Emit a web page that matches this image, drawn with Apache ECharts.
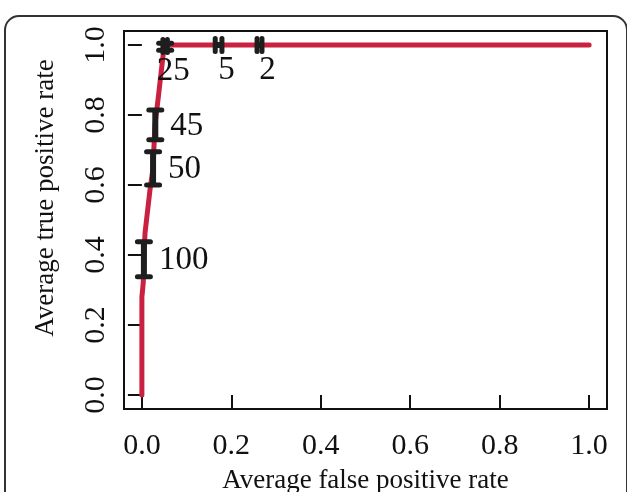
<!DOCTYPE html>
<html><head><meta charset="utf-8">
<script src="https://cdn.jsdelivr.net/npm/echarts@6/dist/echarts.min.js"></script>
<style>html,body{margin:0;padding:0;background:#fff}#c{width:627px;height:492px}</style>
</head><body><div id="c"></div>
<script>
// ROC curve (average false positive rate vs average true positive rate)
const fpr = [0, 0, 0.003, 0.0045, 0.007, 0.018, 0.025, 0.029, 0.036, 0.048, 0.055, 1.0];
const tpr = [0, 0.28, 0.32, 0.388, 0.463, 0.585, 0.648, 0.77, 0.843, 0.977, 1.0, 1.0];
const tickValues = [0, 0.2, 0.4, 0.6, 0.8, 1.0];
// vertical error bars (tpr spread)
const vBarLabels = ['100', '50', '45', '25'];
const vBarX = [0.0045, 0.025, 0.03, 0.052];
const vBarLow = [0.338, 0.60, 0.729, 0.985];
const vBarHigh = [0.438, 0.695, 0.814, 1.005];
// horizontal error bars (fpr spread)
const hBarLabels = ['25', '5', '2'];
const hBarY = [0.997, 1.0, 1.0];
const hBarLow = [0.047, 0.164, 0.2575];
const hBarHigh = [0.057, 0.179, 0.2685];

const FONT = "'Liberation Serif','DejaVu Serif','Times New Roman',serif";
const INK = '#111111';
const RED = '#c9213f';

const chart = echarts.init(document.getElementById('c'));

function vBarItem(params, api) {
  const x = api.value(0), lo = api.value(1), hi = api.value(2);
  const pL = api.coord([x, lo]), pH = api.coord([x, hi]);
  const cw = 6.5;
  return {type: 'group', children: [
    {type: 'line', shape: {x1: pL[0], y1: pL[1], x2: pH[0], y2: pH[1]}, style: {stroke: '#1e1e1e', lineWidth: 6}},
    {type: 'line', shape: {x1: pL[0] - cw, y1: pL[1], x2: pL[0] + cw, y2: pL[1]}, style: {stroke: '#1e1e1e', lineWidth: 5, lineCap: 'round'}},
    {type: 'line', shape: {x1: pH[0] - cw, y1: pH[1], x2: pH[0] + cw, y2: pH[1]}, style: {stroke: '#1e1e1e', lineWidth: 5, lineCap: 'round'}}
  ]};
}
function hBarItem(params, api) {
  const y = api.value(0), lo = api.value(1), hi = api.value(2);
  const pL = api.coord([lo, y]), pH = api.coord([hi, y]);
  const ch = 6.5;
  return {type: 'group', children: [
    {type: 'line', shape: {x1: pL[0], y1: pL[1], x2: pH[0], y2: pH[1]}, style: {stroke: '#1e1e1e', lineWidth: 6}},
    {type: 'line', shape: {x1: pL[0], y1: pL[1] - ch, x2: pL[0], y2: pL[1] + ch}, style: {stroke: '#1e1e1e', lineWidth: 5, lineCap: 'round'}},
    {type: 'line', shape: {x1: pH[0], y1: pH[1] - ch, x2: pH[0], y2: pH[1] + ch}, style: {stroke: '#1e1e1e', lineWidth: 5, lineCap: 'round'}}
  ]};
}

const vData = vBarX.map((x, i) => [x, vBarLow[i], vBarHigh[i]]);
const hData = hBarY.map((y, i) => [y, hBarLow[i], hBarHigh[i]]);

// labels: right of vertical bars (except the one shared with a horizontal bar), below horizontal bars
const rightLabels = vBarLabels.map((l, i) => ({name: l, value: [vBarX[i], (vBarLow[i] + vBarHigh[i]) / 2]}))
  .filter(d => hBarLabels.indexOf(d.name) < 0);
const belowLabels = hBarLabels.map((l, i) => ({name: l, value: [(hBarLow[i] + hBarHigh[i]) / 2, hBarY[i]]}));

const axisCommon = {
  type: 'value', min: -0.04, max: 1.04,
  axisLine: {show: false},
  splitLine: {show: false},
  axisTick: {show: true, customValues: tickValues, length: 14, lineStyle: {color: INK, width: 2}},
};

chart.setOption({
  animation: false,
  backgroundColor: '#fff',
  grid: {left: 124, right: 20, top: 31, bottom: 83, containLabel: false, outerBoundsMode: 'none',
         show: true, borderColor: INK, borderWidth: 2, backgroundColor: 'transparent'},
  xAxis: Object.assign({}, axisCommon, {
    axisLabel: {customValues: tickValues, formatter: v => v.toFixed(1), fontFamily: FONT, fontSize: 30, color: INK, margin: 22},
    name: 'Average false positive rate', nameLocation: 'middle', nameGap: 58,
    nameTextStyle: {fontFamily: FONT, fontSize: 27, color: INK}
  }),
  yAxis: Object.assign({}, axisCommon, {
    axisLabel: {customValues: tickValues, formatter: v => v.toFixed(1), fontFamily: FONT, fontSize: 30, color: INK, margin: 13, rotate: 90}
  }),
  graphic: [
    {type: 'rect', shape: {x: 5, y: 16, width: 622, height: 600, r: 14}, style: {fill: 'none', stroke: '#333', lineWidth: 2}, z: 100},
    {type: 'text', x: 46, y: 198, rotation: Math.PI / 2,
     style: {text: 'Average true positive rate', font: '27px ' + FONT, fill: INK, textAlign: 'center', textVerticalAlign: 'middle'}}
  ],
  series: [
    {type: 'line', data: fpr.map((x, i) => [x, tpr[i]]), showSymbol: false, symbol: 'none', smooth: false,
     lineStyle: {color: RED, width: 5, cap: 'round', join: 'round'}, z: 2},
    {type: 'custom', renderItem: vBarItem, data: vData, encode: {x: 0, y: [1, 2]}, z: 5},
    {type: 'custom', renderItem: hBarItem, data: hData, encode: {y: 0, x: [1, 2]}, z: 5},
    {type: 'scatter', data: rightLabels, symbolSize: 0, z: 6, itemStyle: {opacity: 1},
     label: {show: true, formatter: p => p.name, position: 'inside', align: 'left', verticalAlign: 'middle', offset: [15, 1],
             fontFamily: FONT, fontSize: 33, color: INK, opacity: 1}},
    {type: 'scatter', data: belowLabels, symbolSize: 0, z: 6, itemStyle: {opacity: 1},
     label: {show: true, formatter: p => p.name, position: 'inside', align: 'center', verticalAlign: 'middle', offset: [8, 25],
             fontFamily: FONT, fontSize: 33, color: INK, opacity: 1}}
  ]
});
</script></body></html>
